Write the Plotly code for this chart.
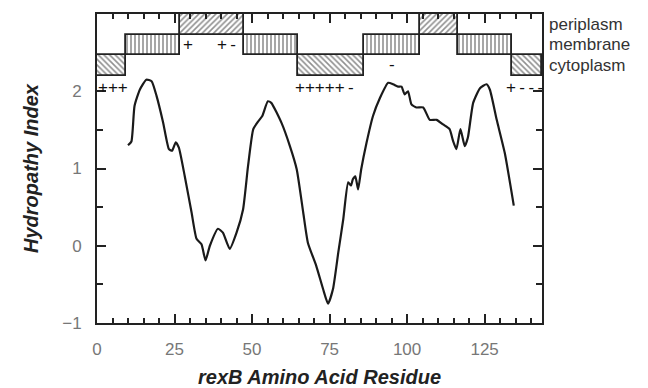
import plotly.graph_objects as go

# Hydropathy profile (residue, index)
residue = [10.0, 11.1, 12.1, 13.8, 15.9, 17.6, 19.2, 21.3, 23.2, 24.2, 25.4, 26.4, 28.3, 30.5,
           32.1, 33.7, 35.0, 36.4, 39.0, 40.6, 42.8, 45.0, 47.1, 48.7, 50.4, 52.0, 53.3, 55.1,
           56.2, 59.5, 62.2, 64.4, 66.5, 68.0, 70.7, 72.9, 74.5, 76.1, 77.8, 79.4, 81.0, 81.9,
           82.5, 83.3, 84.2, 85.2, 86.9, 89.0, 91.2, 93.9, 95.5, 97.1, 98.2, 99.2, 100.3, 101.4,
           103.0, 105.2, 107.3, 109.5, 111.6, 113.7, 114.8, 115.9, 117.2, 118.6, 119.6, 121.3,
           123.5, 125.6, 126.7, 128.9, 131.5, 134.4]
hydropathy = [1.30, 1.35, 1.81, 2.02, 2.15, 2.13, 1.94, 1.60, 1.25, 1.23, 1.34, 1.27, 0.90, 0.43,
              0.09, 0.02, -0.19, 0.00, 0.22, 0.17, -0.04, 0.17, 0.47, 1.03, 1.51, 1.61, 1.68, 1.87,
              1.85, 1.59, 1.29, 0.99, 0.43, 0.04, -0.26, -0.56, -0.75, -0.56, -0.09, 0.34, 0.82, 0.78,
              0.86, 0.90, 0.73, 0.99, 1.33, 1.68, 1.91, 2.11, 2.09, 2.06, 2.06, 1.96, 2.00, 1.83,
              1.79, 1.79, 1.63, 1.63, 1.57, 1.51, 1.36, 1.25, 1.51, 1.29, 1.40, 1.85,
              2.04, 2.09, 2.02, 1.63, 1.20, 0.52]

# Topology segments
seg_bounds = [0, 9.3, 26.7, 47.3, 64.7, 86.0, 104.1, 116.3, 133.8, 143.5]
seg_region = ["cytoplasm", "membrane", "periplasm", "membrane", "cytoplasm",
              "membrane", "periplasm", "membrane", "cytoplasm"]
band_levels = {"cytoplasm": (2.2, 2.47), "membrane": (2.47, 2.73), "periplasm": (2.73, 3.0)}
band_pattern = {"cytoplasm": "\\", "membrane": "|", "periplasm": "/"}
region_labels = ["periplasm", "membrane", "cytoplasm"]

# Charge annotations
charge_text = ["+++", "+", "+\u2009-", "+++++\u2009-", "-", "+\u2009-\u2009-\u2009-"]
charge_x = [5.0, 29.5, 41.8, 73.5, 95.0, 137.8]
charge_y = [2.05, 2.6, 2.6, 2.05, 2.34, 2.05]

x_ticks = [0, 25, 50, 75, 100, 125]
y_ticks = [-1, 0, 1, 2]
y_minor = [-0.5, 0.5, 1.5]

fig = go.Figure()

centers = [(seg_bounds[i] + seg_bounds[i + 1]) / 2 for i in range(len(seg_region))]
widths = [seg_bounds[i + 1] - seg_bounds[i] for i in range(len(seg_region))]
bases = [band_levels[r][0] for r in seg_region]
heights = [band_levels[r][1] - band_levels[r][0] for r in seg_region]
shapes_p = [band_pattern[r] for r in seg_region]

fig.add_trace(go.Bar(
    x=centers, y=heights, base=bases, width=widths,
    marker=dict(color="white", line=dict(color="#222", width=1.8),
                pattern=dict(shape=shapes_p, fgcolor="#222", bgcolor="white",
                             size=4, solidity=0.4)),
    showlegend=False, hoverinfo="skip"))

fig.add_trace(go.Scatter(
    x=residue, y=hydropathy, mode="lines",
    line=dict(color="#1a1a1a", width=2.2, shape="spline", smoothing=0.5),
    showlegend=False))

for t, x, y in zip(charge_text, charge_x, charge_y):
    fig.add_annotation(x=x, y=y, text=t, showarrow=False,
                       font=dict(family="Liberation Sans, Arial", size=17, color="#111"))

for lab in region_labels:
    lo, hi = band_levels[lab]
    fig.add_annotation(xref="paper", x=1, xshift=5, xanchor="left",
                       y=(lo + hi) / 2, yref="y", text=lab, showarrow=False,
                       font=dict(family="Liberation Sans, Arial", size=17, color="#333"))

axis_common = dict(showline=True, linecolor="#222", linewidth=2, mirror="allticks",
                   ticks="inside", tickcolor="#222", tickwidth=1.5, ticklen=9,
                   showgrid=False, zeroline=False, automargin=False,
                   tickfont=dict(family="Liberation Sans, Arial", size=17, color="#777"))

fig.update_layout(
    width=648, height=388,
    margin=dict(l=97, r=106, t=14, b=65),
    plot_bgcolor="white", paper_bgcolor="white",
    barmode="overlay", bargap=0, hovermode=False,
    xaxis=dict(range=[0, 143.5], tickmode="array", tickvals=x_ticks,
               ticklabelstandoff=10,
               minor=dict(dtick=5, tick0=0, ticks="inside", ticklen=5, tickcolor="#222", tickwidth=1.5),
               title=dict(text="<b><i>rexB Amino Acid Residue</i></b>", standoff=12,
                          font=dict(family="Liberation Sans, Arial", size=20, color="#222")),
               **axis_common),
    yaxis=dict(range=[-1, 3.0], tickmode="array", tickvals=y_ticks,
               ticklabelstandoff=10,
               minor=dict(tickmode="array", tickvals=y_minor, ticks="inside", ticklen=6,
                          tickcolor="#222", tickwidth=1.5),
               title=dict(text="<b><i>Hydropathy Index</i></b>", standoff=18,
                          font=dict(family="Liberation Sans, Arial", size=20, color="#222")),
               **axis_common),
)

fig.write_html("out.html", config={"displayModeBar": False},
               post_script="document.body.style.margin='0';document.body.style.overflow='hidden';")
